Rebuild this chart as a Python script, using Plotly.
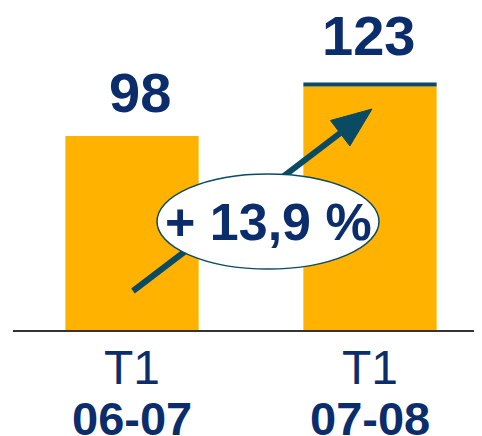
import plotly.graph_objects as go

periods = ['06-07', '07-08']
quarter = ['T1', 'T1']
values = [98, 123]
growth_label = '+ 13,9 %'

BAR = '#FFB300'
NAVY = '#0B2D6B'
TEAL = '#0A4A63'
FONT = 'Arial, Liberation Sans, sans-serif'

# the page body keeps its default 8px margin, so the figure is drawn 8px in
OFF = 8
W, H = 482 - OFF, 436 - OFF
AXIS_Y = 330          # axis line, in page pixels
L = 13 - OFF
B = H - (AXIS_Y - OFF)
plot_w, plot_h = W - L, H - B
PX_PER_UNIT = 1.98
BAR_STEP = 238        # page pixels between the two bar centres
X0 = 132              # page x of first bar centre


def px(x):
    return (x - OFF - L) / plot_w


def py(y):
    return (AXIS_Y - y) / plot_h


fig = go.Figure()

fig.add_trace(go.Bar(
    x=[0, 1],
    y=values,
    width=0.56,
    marker=dict(color=BAR, line=dict(width=0)),
    hoverinfo='skip'
))

# dark cap on the second bar
fig.add_shape(type='line', xref='x', yref='y',
              x0=1 - 0.28, x1=1 + 0.28, y0=values[1] + 1, y1=values[1] + 1,
              line=dict(color=TEAL, width=4))

# growth arrow (line + head), then ellipse on top
tail = (133, 291)
tip = (372, 109)
dx, dy = tip[0] - tail[0], tip[1] - tail[1]
ln = (dx ** 2 + dy ** 2) ** 0.5
ux, uy = dx / ln, dy / ln
nx, ny = -uy, ux
bx, by = tip[0] - 40 * ux, tip[1] - 40 * uy
fig.add_shape(type='line', xref='paper', yref='paper',
              x0=px(tail[0]), y0=py(tail[1]), x1=px(bx), y1=py(by),
              line=dict(color=TEAL, width=6))
c1 = (bx + 16 * nx, by + 16 * ny)
c2 = (bx - 16 * nx, by - 16 * ny)
fig.add_shape(type='path', xref='paper', yref='paper',
              path='M {} {} L {} {} L {} {} Z'.format(px(tip[0]), py(tip[1]),
                                                      px(c1[0]), py(c1[1]),
                                                      px(c2[0]), py(c2[1])),
              fillcolor=TEAL, line=dict(color=TEAL, width=1))
fig.add_shape(type='circle', xref='paper', yref='paper',
              x0=px(157), x1=px(379), y0=py(269), y1=py(174),
              fillcolor='white', line=dict(color=TEAL, width=1.5))

fig.add_annotation(x=px(268), y=py(222), xref='paper', yref='paper',
                   xanchor='center', yanchor='middle',
                   text='<b>' + growth_label + '</b>', showarrow=False,
                   font=dict(family=FONT, size=52, color=NAVY))

for i, v in enumerate(values):
    fig.add_annotation(x=i, y=v, xref='x', yref='y',
                       xanchor='center', yanchor='bottom',
                       xshift=8 if i == 0 else -2,
                       yshift=10 if i == 0 else 17,
                       text='<b>%d</b>' % v, showarrow=False,
                       font=dict(family=FONT, size=56, color=NAVY))
    fig.add_annotation(x=i, y=py(368), xref='x', yref='paper',
                       xanchor='center', yanchor='middle',
                       text=quarter[i], showarrow=False,
                       font=dict(family=FONT, size=48, color=NAVY))
    fig.add_annotation(x=i, y=py(418), xref='x', yref='paper',
                       xanchor='center', yanchor='middle',
                       text='<b>' + periods[i] + '</b>', showarrow=False,
                       font=dict(family=FONT, size=47, color=NAVY))

fig.update_layout(
    width=W, height=H,
    margin=dict(l=L, r=0, t=0, b=B, pad=0),
    paper_bgcolor='white', plot_bgcolor='white',
    showlegend=False,
    xaxis=dict(range=[(13 - X0) / BAR_STEP, (482 - X0) / BAR_STEP],
               showgrid=False, zeroline=False, showticklabels=False,
               showline=True, linecolor='#333333', linewidth=1.5,
               fixedrange=True),
    yaxis=dict(range=[0, plot_h / PX_PER_UNIT], visible=False,
               fixedrange=True),
)

fig.write_html('out.html', config={'displayModeBar': False})
